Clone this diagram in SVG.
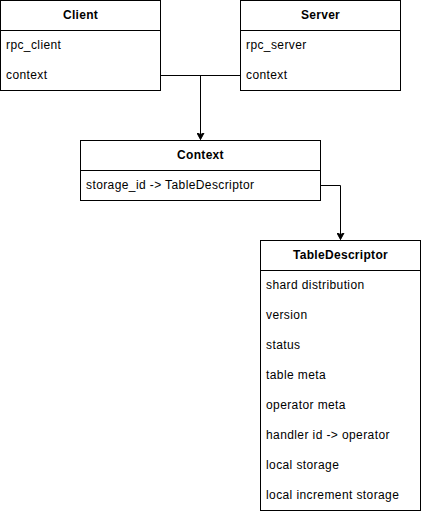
<svg xmlns="http://www.w3.org/2000/svg" width="421" height="514" viewBox="0 0 421 514">
<style>
.box{fill:#fff;stroke:#000;stroke-width:1}
.line{fill:none;stroke:#000;stroke-width:1}
.h{font-family:"Liberation Sans",Arial,Helvetica,sans-serif;font-size:12px;font-weight:bold;letter-spacing:0.3px;text-anchor:middle;dominant-baseline:central;fill:#000}
.t{font-family:"Liberation Sans",Arial,Helvetica,sans-serif;font-size:12px;letter-spacing:0.4px;dominant-baseline:central;fill:#000}
</style>
<defs>
<marker id="arr" markerWidth="8" markerHeight="8" refX="7" refY="4" orient="auto" markerUnits="userSpaceOnUse">
<path d="M0.5,0.5 L7,4 L0.5,7.5 L2,4 Z" fill="#000" stroke="#000" stroke-width="1"/>
</marker>
</defs>
<rect width="421" height="514" fill="#fff"/>
<g id="connectors">
<path class="line" d="M160.5,75.5 H240.5"/>
<path class="line" d="M200.5,75.5 V139.5" marker-end="url(#arr)"/>
<path class="line" d="M320.5,185.5 H340.5 V239.5" marker-end="url(#arr)"/>
</g>
<g id="client">
<rect class="box" x="0.5" y="0.5" width="160" height="90"/>
<path class="line" d="M0.5,30.5 H160.5"/>
<text class="h" x="80.5" y="15">Client</text>
<text class="t" x="6" y="45">rpc_client</text>
<text class="t" x="6" y="75">context</text>
</g>
<g id="server">
<rect class="box" x="240.5" y="0.5" width="160" height="90"/>
<path class="line" d="M240.5,30.5 H400.5"/>
<text class="h" x="320.5" y="15">Server</text>
<text class="t" x="246" y="45">rpc_server</text>
<text class="t" x="246" y="75">context</text>
</g>
<g id="context">
<rect class="box" x="80.5" y="140.5" width="240" height="60"/>
<path class="line" d="M80.5,170.5 H320.5"/>
<text class="h" x="200.5" y="155">Context</text>
<text class="t" x="86" y="185">storage_id -&gt; TableDescriptor</text>
</g>
<g id="tabledescriptor">
<rect class="box" x="260.5" y="240.5" width="160" height="270"/>
<path class="line" d="M260.5,270.5 H420.5"/>
<text class="h" x="340.5" y="255">TableDescriptor</text>
<text class="t" x="266" y="285">shard distribution</text>
<text class="t" x="266" y="315">version</text>
<text class="t" x="266" y="345">status</text>
<text class="t" x="266" y="375">table meta</text>
<text class="t" x="266" y="405">operator meta</text>
<text class="t" x="266" y="435">handler id -&gt; operator</text>
<text class="t" x="266" y="465">local storage</text>
<text class="t" x="266" y="495">local increment storage</text>
</g>
</svg>
